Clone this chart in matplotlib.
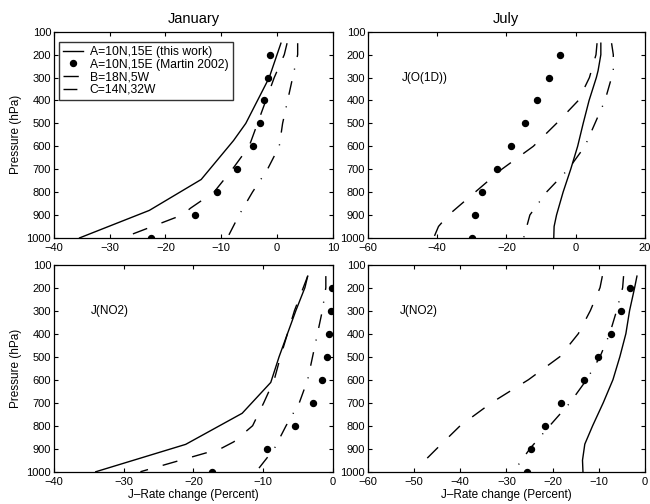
import matplotlib.pyplot as plt

plt.rcParams['font.family'] = ['Liberation Sans', 'DejaVu Sans']
plt.rcParams['axes.unicode_minus'] = True

# pressure levels for the model curves (hPa)
p_jan_o1d_A = [150, 200, 300, 400, 500, 575, 745, 880, 1000]
x_jan_o1d_A = [0.7, 0.0, -1.4, -3.5, -5.6, -7.8, -13.6, -22.9, -35.4]
p_jan_o1d_B = [150, 200, 300, 400, 500, 600, 700, 800, 870, 900, 1000]
x_jan_o1d_B = [1.8, 1.3, -0.5, -2.0, -3.5, -5.0, -8.0, -11.3, -15.5, -17.0, -27.7]
p_jan_o1d_C = [150, 200, 300, 400, 500, 600, 700, 800, 900, 1000]
x_jan_o1d_C = [3.7, 3.7, 2.8, 1.9, 1.0, 0.4, -1.7, -4.4, -6.8, -8.9]

p_jul_o1d_A = [150, 200, 270, 300, 400, 500, 600, 700, 800, 900, 950, 1000]
x_jul_o1d_A = [7.3, 7.3, 6.5, 6.0, 3.9, 2.2, 0.6, -1.4, -3.6, -5.5, -6.2, -6.3]
p_jul_o1d_B = [150, 200, 300, 400, 500, 600, 700, 800, 900, 950, 1000]
x_jul_o1d_B = [6.2, 5.9, 4.0, 0.8, -5.5, -12.2, -21.3, -29.0, -36.7, -39.6, -41.0]
p_jul_o1d_C = [150, 200, 270, 300, 400, 500, 600, 700, 800, 900, 1000]
x_jul_o1d_C = [10.4, 10.9, 10.9, 10.4, 8.5, 5.6, 2.7, -2.1, -8.4, -13.2, -15.0]

p_jan_no2_A = [150, 200, 300, 400, 500, 612, 746, 881, 1000]
x_jan_no2_A = [-3.6, -4.0, -5.3, -6.5, -7.7, -8.9, -13.0, -21.1, -34.0]
p_jan_no2_B = [150, 300, 400, 500, 600, 700, 800, 870, 900, 1000]
x_jan_no2_B = [-3.6, -5.5, -6.5, -7.5, -8.4, -9.9, -11.5, -14.2, -16.1, -27.6]
p_jan_no2_C = [150, 200, 300, 400, 500, 600, 700, 800, 900, 1000]
x_jan_no2_C = [-1.0, -1.0, -1.5, -2.2, -2.9, -3.6, -4.8, -6.7, -8.4, -11.0]

p_jul_no2_A = [150, 200, 300, 400, 500, 600, 700, 800, 880, 950, 1000]
x_jul_no2_A = [-1.7, -2.2, -3.3, -4.1, -5.4, -6.9, -9.0, -11.3, -13.0, -13.5, -13.4]
p_jul_no2_B = [150, 200, 300, 400, 500, 600, 700, 800, 900, 950, 1000]
x_jul_no2_B = [-9.2, -9.7, -11.8, -14.4, -18.4, -25.2, -33.2, -40.0, -45.1, -47.6, -48.1]
p_jul_no2_C = [150, 200, 300, 400, 500, 600, 700, 800, 900, 970]
x_jul_no2_C = [-4.6, -4.8, -6.1, -7.6, -9.7, -12.6, -16.2, -20.6, -24.9, -27.4]

# Martin 2002 points
p_dots = [200, 300, 400, 500, 600, 700, 800, 900, 1000]
d_jan_o1d = [-1.3, -1.7, -2.3, -3.0, -4.3, -7.2, -10.7, -14.7, -22.6]
d_jul_o1d = [-4.5, -7.6, -11.1, -14.5, -18.6, -22.7, -27.0, -29.0, -30.0]
d_jan_no2 = [-0.05, -0.3, -0.5, -0.9, -1.6, -2.8, -5.4, -9.4, -17.3]
d_jul_no2 = [-3.1, -5.1, -7.4, -10.1, -13.1, -18.1, -21.6, -24.6, -25.6]

fig = plt.figure(figsize=(6.5, 5.04), dpi=100)
pos = [[0.083, 0.528, 0.429, 0.409], [0.566, 0.528, 0.426, 0.409],
       [0.083, 0.064, 0.429, 0.411], [0.566, 0.064, 0.426, 0.411]]

panels = [
    (p_jan_o1d_A, x_jan_o1d_A, p_jan_o1d_B, x_jan_o1d_B, p_jan_o1d_C, x_jan_o1d_C, d_jan_o1d, (-40, 10), range(-40, 11, 10)),
    (p_jul_o1d_A, x_jul_o1d_A, p_jul_o1d_B, x_jul_o1d_B, p_jul_o1d_C, x_jul_o1d_C, d_jul_o1d, (-60, 20), range(-60, 21, 20)),
    (p_jan_no2_A, x_jan_no2_A, p_jan_no2_B, x_jan_no2_B, p_jan_no2_C, x_jan_no2_C, d_jan_no2, (-40, 0), range(-40, 1, 10)),
    (p_jul_no2_A, x_jul_no2_A, p_jul_no2_B, x_jul_no2_B, p_jul_no2_C, x_jul_no2_C, d_jul_no2, (-60, 0), range(-60, 1, 10)),
]

axes = []
for i, (pa, xa, pb, xb, pc, xc, dd, xl, xt) in enumerate(panels):
    ax = fig.add_axes(pos[i])
    lw = 1.0
    ax.plot(xa, pa, 'k-', lw=lw, label='A=10N,15E (this work)')
    ax.plot(dd, p_dots, 'ko', ms=4.3, ls='none', label='A=10N,15E (Martin 2002)')
    ax.plot(xb, pb, 'k', ls=(0, (11, 11)), lw=lw, label='B=18N,5W')
    ax.plot(xc, pc, 'k', ls=(0, (10, 8.5, 0.8, 8.5)), lw=lw, label='C=14N,32W')
    ax.set_xlim(*xl)
    ax.set_xticks(list(xt))
    ax.set_ylim(1000, 100)
    ax.set_yticks(range(100, 1001, 100))
    ax.tick_params(direction='in', top=True, right=True, labelsize=8, length=3)
    ax.tick_params(axis='x', pad=3.5)
    ax.tick_params(axis='y', pad=2)
    for s in ax.spines.values():
        s.set_linewidth(0.9)
    axes.append(ax)

axes[0].set_title('January', fontsize=10.5, pad=6)
axes[1].set_title('July', fontsize=10.5, pad=6)
axes[0].set_ylabel('Pressure (hPa)', fontsize=8.5, labelpad=3)
axes[2].set_ylabel('Pressure (hPa)', fontsize=8.5, labelpad=3)
axes[2].set_xlabel('J\u2013Rate change (Percent)', fontsize=8.5, labelpad=1.5)
axes[3].set_xlabel('J\u2013Rate change (Percent)', fontsize=8.5, labelpad=1.5)

axes[1].text(-50.2, 300, 'J(O(1D))', fontsize=8.5, va='center')
axes[2].text(-34.7, 300, 'J(NO2)', fontsize=8.5, va='center')
axes[3].text(-53, 300, 'J(NO2)', fontsize=8.5, va='center')

leg = axes[0].legend(loc='upper left', bbox_to_anchor=(0.018, 0.951), fontsize=8.7,
                     frameon=True, fancybox=False, edgecolor='k', handlelength=1.6,
                     borderpad=0.35, labelspacing=0.05, handletextpad=0.6, borderaxespad=0.0)
leg.get_frame().set_linewidth(1.0)

fig.savefig('out.png', dpi=100)
